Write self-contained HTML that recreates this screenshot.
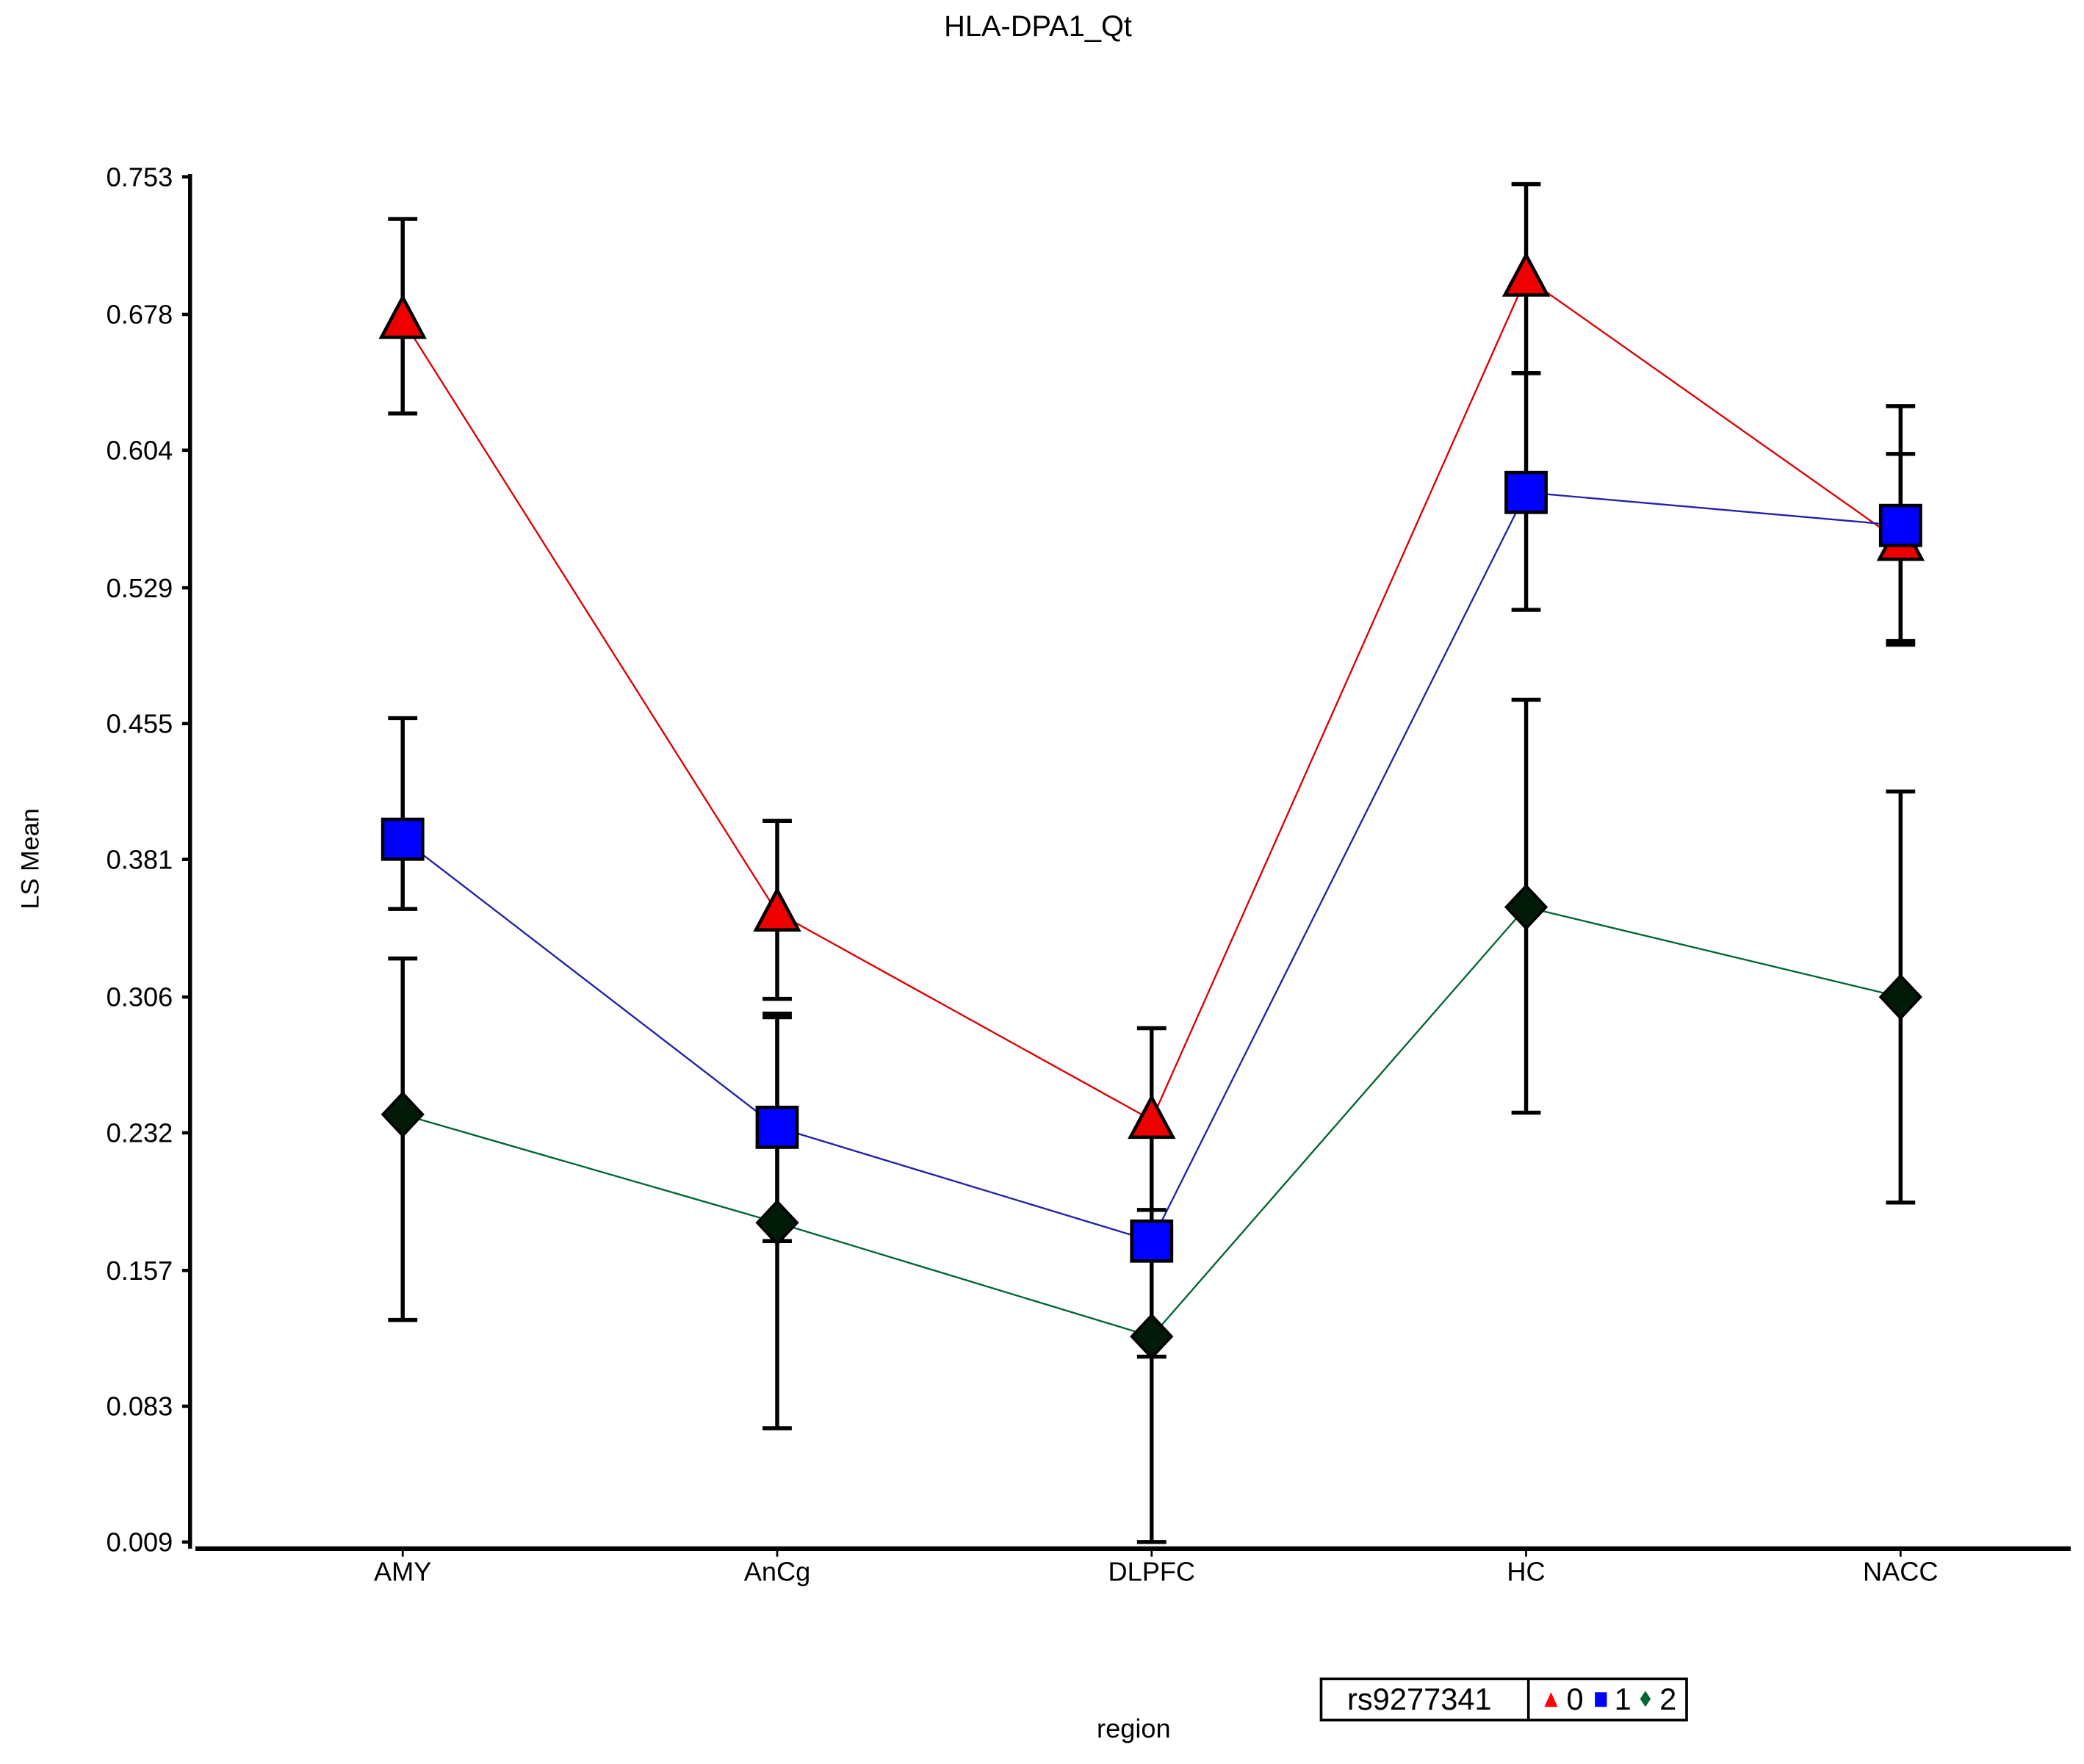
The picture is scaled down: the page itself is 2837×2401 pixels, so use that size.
<!DOCTYPE html>
<html><head><meta charset="utf-8"><style>html,body{margin:0;padding:0;background:#fff}svg{display:block}</style></head>
<body>
<svg id="chart" width="2837" height="2401" viewBox="0 0 1568 1327" preserveAspectRatio="none" xmlns="http://www.w3.org/2000/svg" font-family="'Liberation Sans', sans-serif">
<text x="781" y="27" font-size="22" text-anchor="middle">HLA-DPA1_Qt</text>
<text transform="translate(29,646) rotate(-90)" font-size="19" text-anchor="middle">LS Mean</text>
<text x="853" y="1307" font-size="20" text-anchor="middle">region</text>
<g id="axes"></g>
<g id="series"></g>
<g>
<rect x="994" y="1263" width="275" height="31" fill="#fff" stroke="#000" stroke-width="2"/>
<line x1="1150" y1="1263" x2="1150" y2="1294" stroke="#000" stroke-width="2"/>
<text x="1068" y="1286" font-size="23" text-anchor="middle">rs9277341</text>
<polygon points="1162,1284 1167,1273 1172,1284" fill="#f00"/>
<text x="1185" y="1286" font-size="23" text-anchor="middle">0</text>
<rect x="1200" y="1273" width="9" height="11" fill="#00f"/>
<text x="1221" y="1286" font-size="23" text-anchor="middle">1</text>
<polygon points="1238,1272 1242,1278 1238,1284 1234,1278" fill="#063"/>
<text x="1255" y="1286" font-size="23" text-anchor="middle">2</text>
</g>
</svg>
<script>
const categories = ["AMY","AnCg","DLPFC","HC","NACC"];
const yTicks = [0.009,0.083,0.157,0.232,0.306,0.381,0.455,0.529,0.604,0.678,0.753];
const series0 = [0.675,0.352,0.239,0.698,0.554];
const series0Low = [0.624,0.305,0.190,0.646,0.500];
const series0High = [0.730,0.402,0.289,0.749,0.628];
const series1 = [0.392,0.235,0.173,0.581,0.563];
const series1Low = [0.354,0.173,0.110,0.517,0.498];
const series1High = [0.458,0.297,0.236,0.646,0.602];
const series2 = [0.242,0.183,0.121,0.355,0.306];
const series2Low = [0.130,0.071,0.009,0.243,0.194];
const series2High = [0.327,0.295,0.233,0.468,0.418];

const NS="http://www.w3.org/2000/svg";
const yMin=0.009,yMax=0.753,yTop=133,yBot=1160;
function yScale(v){return yBot-(v-yMin)/(yMax-yMin)*(yBot-yTop);}
function xScale(i){return 303+i*281.75;}
function mk(tag,attrs,parent){const e=document.createElementNS(NS,tag);for(const k in attrs)e.setAttribute(k,attrs[k]);parent.appendChild(e);return e;}
const axes=document.getElementById('axes');
const ser=document.getElementById('series');
let el=mk('line',{x1:143,y1:131,x2:143,y2:1165,stroke:'#000','stroke-width':3},axes);


el=mk('line',{x1:147,y1:1165,x2:1558,y2:1165,stroke:'#000','stroke-width':3.5},axes);


yTicks.forEach(t=>{
  const y=yScale(t);
  mk('line',{x1:137,y1:y,x2:143,y2:y,stroke:'#000','stroke-width':2.5},axes);
  const tx=mk('text',{x:130,y:y+7,'font-size':20,'text-anchor':'end'},axes);
  tx.textContent=t.toFixed(3);
  
  
});
categories.forEach((c,i)=>{
  const x=xScale(i);
  mk('line',{x1:x,y1:1165,x2:x,y2:1171,stroke:'#000','stroke-width':1.5},axes);
  const tx=mk('text',{x:x,y:1189,'font-size':20,'text-anchor':'middle'},axes);
  tx.textContent=c;
  
  
});
const defs=[
 {v:series0,lo:series0Low,hi:series0High,line:'#d00',fill:'#e00',shape:'tri',name:'series-0'},
 {v:series1,lo:series1Low,hi:series1High,line:'#22a',fill:'#00f',shape:'sq',name:'series-1'},
 {v:series2,lo:series2Low,hi:series2High,line:'#063',fill:'#021a08',shape:'dia',name:'series-2'}
];
defs.forEach(d=>{
  const pts=d.v.map((v,i)=>xScale(i)+','+yScale(v)).join(' ');
  const pl=mk('polyline',{points:pts,fill:'none',stroke:d.line,'stroke-width':1.3},ser);
  
  
});
defs.forEach(d=>{
  d.v.forEach((v,i)=>{
    const x=xScale(i),y1=yScale(d.lo[i]),y2=yScale(d.hi[i]);
    const g=mk('g',{stroke:'#000','stroke-width':3},ser);
    
    
    mk('line',{x1:x,y1:y1,x2:x,y2:y2},g);
    mk('line',{x1:x-11,y1:y1,x2:x+11,y2:y1},g);
    mk('line',{x1:x-11,y1:y2,x2:x+11,y2:y2},g);
  });
});
defs.forEach(d=>{
  d.v.forEach((v,i)=>{
    const x=xScale(i),y=yScale(v);let m;
    if(d.shape==='tri') m=mk('polygon',{points:`${x-16},${y+13} ${x},${y-17} ${x+16},${y+13}`,fill:d.fill,stroke:'#000','stroke-width':2.5},ser);
    else if(d.shape==='sq') m=mk('rect',{x:x-15,y:y-15,width:30,height:30,fill:d.fill,stroke:'#000','stroke-width':2.5},ser);
    else m=mk('polygon',{points:`${x},${y-16} ${x+15},${y} ${x},${y+16} ${x-15},${y}`,fill:d.fill,stroke:'#000','stroke-width':2},ser);
    
    
  });
});
</script>
</body></html>
